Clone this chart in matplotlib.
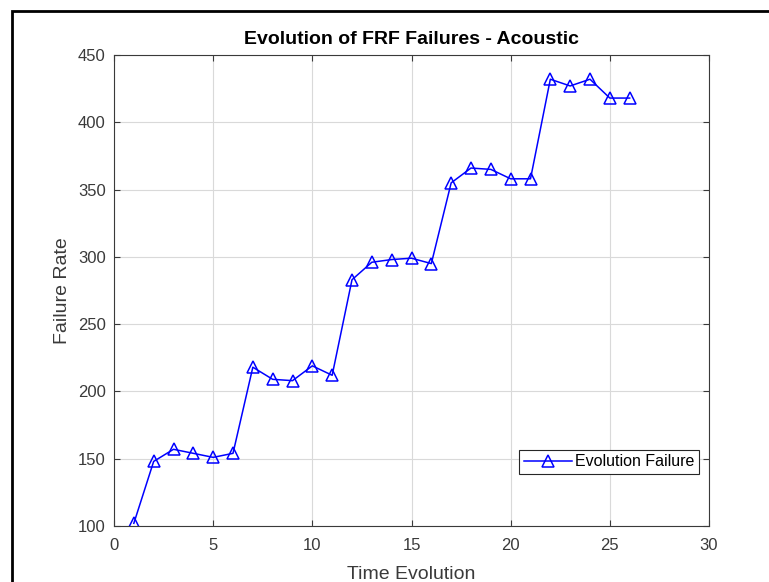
import matplotlib
matplotlib.use("Agg")
import matplotlib.pyplot as plt
from matplotlib.patches import Rectangle

plt.rcParams['font.family'] = ['Liberation Sans', 'DejaVu Sans']

# donnees
temps = list(range(1, 27))
echecs = [102, 148, 157, 154, 151, 154, 218, 209, 208, 219, 212, 283, 296,
          298, 299, 295, 355, 366, 365, 358, 358, 432, 427, 432, 418, 418]
xticks = [0, 5, 10, 15, 20, 25, 30]
yticks = [100, 150, 200, 250, 300, 350, 400, 450]

fig = plt.figure(figsize=(7.69, 5.82), dpi=100)
ax = fig.add_axes([114/769, 56/582, 595/769, 471/582])

# cadre noir de la capture
fig.patches.append(Rectangle((12/769, -0.1), 1.2, (582-11)/582 + 0.1,
                             transform=fig.transFigure, fill=False,
                             edgecolor='black', linewidth=2))

ax.plot(temps, echecs, color=(0, 0, 1), linewidth=1.1, marker='^',
        markersize=8, markerfacecolor='none', markeredgewidth=1.1,
        label='Evolution Failure')

ax.set_xlim(0, 30)
ax.set_ylim(100, 450)
ax.set_xticks(xticks)
ax.set_yticks(yticks)
ax.grid(True, color='#d9d9d9', linewidth=0.8)
ax.set_axisbelow(True)
ax.tick_params(direction='in', top=True, right=True, labelsize=12,
               colors='#3a3a3a', length=4, width=0.8)
ax.tick_params(axis='x', pad=9)
ax.tick_params(axis='y', pad=6)
for s in ax.spines.values():
    s.set_color('#3a3a3a')
    s.set_linewidth(0.8)

ax.set_title('Evolution of FRF Failures - Acoustic', fontsize=14,
             fontweight='bold', pad=8)
ax.set_xlabel('Time Evolution', fontsize=14, color='#3a3a3a', labelpad=9)
ax.set_ylabel('Failure Rate', fontsize=14, color='#3a3a3a', labelpad=5)

leg = ax.legend(loc='lower right', bbox_to_anchor=(0.983, 0.11),
                fontsize=11.5, fancybox=False, framealpha=1,
                edgecolor='#262626', borderaxespad=0, handlelength=3,
                handletextpad=0.2, borderpad=0.3)
leg.get_frame().set_linewidth(0.8)

fig.savefig('out.png', dpi=100)
